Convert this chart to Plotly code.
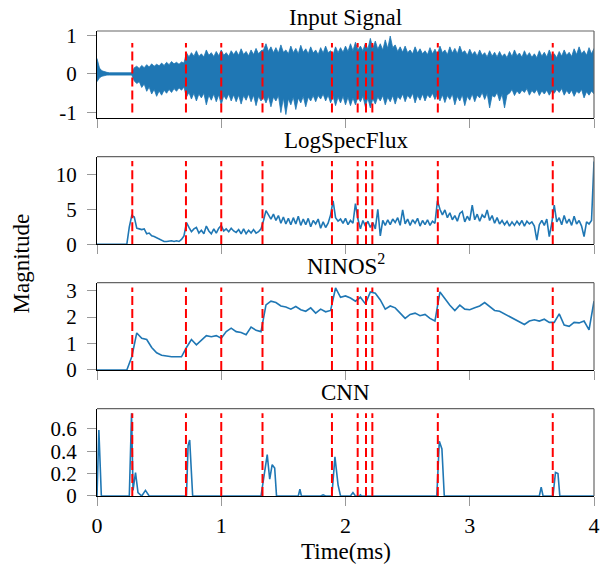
import numpy as np
import plotly.graph_objects as go

# onset markers (ms)
onsets = [0.284, 0.716, 1.0, 1.332, 1.891, 2.098, 2.165, 2.216, 2.743, 3.668]

# sampling grids (ms)
t_grid = np.arange(0, 4.001, 0.04)
t_fine = np.arange(0, 4.001, 0.02)

# input signal envelope (upper / lower, 0.02 ms steps)
sig_hi = [0.40, 0.15, 0.08, 0.05, 0.04, 0.03, 0.03, 0.03, 0.02, 0.02,
          0.02, 0.02, 0.02, 0.02, 0.03, 0.16, 0.20, 0.14, 0.22, 0.16,
          0.24, 0.18, 0.26, 0.20, 0.25, 0.21, 0.28, 0.22, 0.30, 0.24,
          0.32, 0.26, 0.30, 0.25, 0.31, 0.28, 0.55, 0.44, 0.55, 0.46,
          0.60, 0.45, 0.52, 0.44, 0.62, 0.48, 0.55, 0.45, 0.58, 0.47,
          0.62, 0.48, 0.55, 0.46, 0.60, 0.50, 0.60, 0.48, 0.65, 0.50,
          0.58, 0.47, 0.62, 0.50, 0.66, 0.52, 0.60, 0.62, 0.78, 0.58,
          0.70, 0.55, 0.68, 0.54, 0.75, 0.56, 0.62, 0.52, 0.72, 0.55,
          0.66, 0.52, 0.74, 0.56, 0.65, 0.52, 0.70, 0.54, 0.62, 0.50,
          0.68, 0.54, 0.72, 0.55, 0.60, 0.50, 0.70, 0.55, 0.68, 0.56,
          0.72, 0.58, 0.78, 0.60, 0.82, 0.62, 0.72, 0.60, 0.80, 0.64,
          0.92, 0.66, 0.85, 0.64, 0.78, 0.62, 0.88, 0.66, 0.98, 0.68,
          0.75, 0.58, 0.70, 0.56, 0.72, 0.55, 0.62, 0.52, 0.70, 0.54,
          0.65, 0.52, 0.60, 0.50, 0.68, 0.52, 0.64, 0.50, 0.72, 0.55,
          0.62, 0.50, 0.70, 0.54, 0.66, 0.52, 0.72, 0.55, 0.60, 0.48,
          0.64, 0.50, 0.58, 0.46, 0.62, 0.48, 0.55, 0.44, 0.60, 0.46,
          0.56, 0.44, 0.58, 0.45, 0.52, 0.42, 0.58, 0.45, 0.62, 0.47,
          0.54, 0.43, 0.60, 0.46, 0.55, 0.43, 0.52, 0.42, 0.60, 0.46,
          0.56, 0.44, 0.62, 0.47, 0.52, 0.42, 0.58, 0.46, 0.62, 0.48,
          0.56, 0.45, 0.65, 0.50, 0.70, 0.52, 0.60, 0.48, 0.68, 0.52,
          0.66]
sig_lo = [-0.20, -0.10, -0.06, -0.04, -0.03, -0.03, -0.03, -0.02, -0.02, -0.02,
          -0.02, -0.02, -0.02, -0.02, -0.03, -0.18, -0.25, -0.20, -0.35, -0.26,
          -0.45, -0.34, -0.52, -0.40, -0.58, -0.44, -0.55, -0.42, -0.50, -0.40,
          -0.48, -0.38, -0.45, -0.36, -0.42, -0.34, -0.60, -0.48, -0.65, -0.50,
          -0.70, -0.52, -0.62, -0.50, -0.80, -0.55, -0.68, -0.52, -0.72, -0.54,
          -0.80, -0.56, -0.66, -0.52, -0.70, -0.54, -0.72, -0.55, -0.78, -0.56,
          -0.68, -0.52, -0.72, -0.55, -0.82, -0.58, -0.70, -0.60, -0.75, -0.58,
          -0.85, -0.60, -0.70, -0.56, -1.00, -0.62, -1.05, -0.64, -0.80, -0.60,
          -0.92, -0.62, -0.75, -0.58, -0.85, -0.60, -0.70, -0.56, -0.72, -0.56,
          -0.65, -0.52, -0.70, -0.55, -0.75, -0.58, -0.82, -0.60, -0.75, -0.58,
          -0.80, -0.60, -0.82, -0.62, -0.80, -0.60, -0.72, -0.58, -0.85, -0.62,
          -0.88, -0.64, -0.78, -0.60, -0.70, -0.56, -0.80, -0.60, -0.72, -0.56,
          -0.78, -0.58, -0.66, -0.52, -0.72, -0.55, -0.64, -0.50, -0.75, -0.56,
          -0.68, -0.52, -0.70, -0.54, -0.62, -0.50, -0.66, -0.52, -0.70, -0.54,
          -0.74, -0.56, -0.66, -0.52, -0.80, -0.58, -0.70, -0.54, -0.82, -0.58,
          -0.68, -0.52, -0.72, -0.55, -0.62, -0.48, -0.66, -0.50, -0.88, -0.56,
          -0.60, -0.48, -0.70, -0.52, -0.88, -0.54, -0.50, -0.40, -0.56, -0.44,
          -0.52, -0.42, -0.48, -0.38, -0.55, -0.43, -0.50, -0.40, -0.56, -0.44,
          -0.52, -0.42, -0.55, -0.44, -0.50, -0.40, -0.48, -0.38, -0.55, -0.43,
          -0.52, -0.42, -0.58, -0.45, -0.50, -0.40, -0.62, -0.46, -0.55, -0.44,
          -0.52]

# LogSpecFlux (0.02 ms steps)
lsf = [0, 0, 0, 0, 0, 0, 0, 0, 0, 0,
       0, 0, 0, 2.5, 4.1, 3.9, 2.3, 2.2, 2.1, 2.2,
       1.5, 1.6, 1.2, 1.1, 0.9, 0.7, 0.5, 0.4, 0.4, 0.5,
       0.5, 0.4, 0.5, 0.4, 0.7, 1.2, 3.1, 2.4, 1.8, 2.2,
       2.4, 1.6, 2.0, 1.5, 2.6, 1.9, 1.5, 2.2, 1.6, 2.3,
       2.7, 1.9, 2.2, 1.8, 2.3, 1.9, 1.7, 2.1, 1.5, 2.2,
       1.5, 2.0, 1.6, 2.1, 1.6, 1.8, 2.2, 3.4, 4.8, 4.2,
       3.6, 4.3, 3.4, 4.1, 3.0, 3.9, 2.9, 3.7, 2.8, 3.8,
       2.9, 4.0, 2.7, 3.6, 2.8, 3.7, 2.5, 3.4, 2.9, 3.6,
       2.3, 3.2, 2.4, 3.0, 4.2, 6.2, 3.8, 3.3, 3.6, 3.0,
       3.7, 2.8, 3.4, 3.0, 5.8, 3.6, 2.2, 3.4, 2.6, 3.3,
       2.4, 3.1, 2.2, 5.0, 1.2, 3.4, 2.7, 3.5, 2.8, 3.6,
       3.1, 3.8, 2.7, 4.9, 2.9, 3.6, 2.7, 3.5, 3.0, 3.7,
       2.6, 3.4, 2.8, 3.5, 2.7, 3.3, 3.0, 6.2, 5.0, 4.2,
       4.9, 3.8, 4.5, 3.5, 4.1, 3.3, 4.4, 4.7, 3.2, 4.0,
       3.4, 5.6, 3.5, 4.3, 3.3, 4.2, 3.8, 4.9, 3.4, 4.1,
       3.0, 3.8, 2.9, 3.4, 2.8, 3.3, 2.6, 3.2, 2.7, 3.3,
       2.8, 3.4, 2.6, 3.3, 2.9, 3.2, 2.6, 0.6, 2.8, 3.4,
       2.7, 3.6, 1.1, 3.0, 5.6, 3.2, 3.8, 2.8, 4.1, 3.0,
       3.6, 2.7, 4.0, 2.9, 3.4, 2.6, 1.1, 3.2, 2.9, 3.4,
       11.8]

# NINOS^2 (0.04 ms steps)
ninos = [0, 0, 0, 0, 0, 0, 0, 0.5, 1.4, 1.2,
         1.15, 0.85, 0.65, 0.56, 0.52, 0.50, 0.50, 0.50, 0.85, 1.15,
         0.95, 1.12, 1.30, 1.26, 1.30, 1.20, 1.45, 1.58, 1.45, 1.42,
         1.33, 1.62, 1.50, 1.45, 2.46, 2.60, 2.55, 2.42, 2.38, 2.30,
         2.40, 2.28, 2.22, 2.35, 2.15, 2.30, 2.20, 2.25, 3.10, 2.75,
         2.80, 2.72, 2.60, 2.75, 2.50, 2.95, 2.90, 2.65, 2.30, 2.42,
         2.35, 2.15, 1.95, 2.10, 2.15, 2.05, 2.10, 1.95, 1.85, 2.95,
         2.70, 2.45, 2.25, 2.45, 2.30, 2.28, 2.35, 2.42, 2.55, 2.40,
         2.25, 2.22, 2.12, 2.05, 1.95, 1.85, 1.72, 1.85, 1.90, 1.85,
         1.92, 1.80, 1.80, 2.12, 1.70, 1.65, 1.80, 1.78, 1.85, 1.52,
         2.60]

# CNN output (sparse peaks)
cnn_t = [0, 0.015, 0.035, 0.05, 0.26, 0.278, 0.29, 0.31, 0.33, 0.36, 0.39, 0.42,
         0.72, 0.733, 0.746, 0.77, 1.32, 1.37, 1.39, 1.41, 1.43, 1.445,
         1.62, 1.633, 1.645, 1.80, 1.82, 1.84, 1.89, 1.915, 1.94, 1.96,
         2.04, 2.06, 2.08, 2.11, 2.12, 2.13, 2.735, 2.755, 2.776, 2.795,
         3.56, 3.575, 3.59, 3.67, 3.69, 3.71, 3.725, 4.0]
cnn_v = [0, 0.59, 0, 0, 0, 0.74, 0.05, 0.21, 0.03, 0, 0.05, 0,
         0, 0.45, 0.5, 0, 0, 0.37, 0.15, 0.28, 0.25, 0,
         0, 0.06, 0, 0, 0.01, 0, 0, 0.35, 0.1, 0,
         0, 0.03, 0, 0, 0.01, 0, 0, 0.49, 0.42, 0,
         0, 0.08, 0, 0, 0.21, 0.2, 0, 0]

BLUE = "#1f77b4"
FONT = "Liberation Serif"

# (title, y range, tick values, tick text, onset line span)
panels = [
    ("Input Signal", [-1.14, 1.11], [-1, 0, 1], ["-1", "0", "1"], (-1.0, 0.8)),
    ("LogSpecFlux", [0, 12.5], [0, 5, 10], ["0", "5", "10"], (0, 11.9)),
    ("NINOS<sup>2</sup>", [0, 3.3], [0, 1, 2, 3], ["0", "1", "2", "3"], (0, 3.12)),
    ("CNN", [0, 0.78], [0, 0.2, 0.4, 0.6], ["0", "0.2", "0.4", "0.6"], (0, 0.74)),
]
domains = [(0.8129, 1.0), (0.5413, 0.7297), (0.271, 0.4587), (0.0, 0.1877)]

fig = go.Figure()

# panel 1: waveform drawn as a filled envelope
fig.add_trace(go.Scatter(x=t_fine, y=sig_lo, mode="lines", line=dict(color=BLUE, width=0.8),
                         xaxis="x", yaxis="y", showlegend=False))
fig.add_trace(go.Scatter(x=t_fine, y=sig_hi, mode="lines", line=dict(color=BLUE, width=0.8),
                         fill="tonexty", fillcolor=BLUE, xaxis="x", yaxis="y", showlegend=False))
fig.add_trace(go.Scatter(x=t_fine, y=lsf, mode="lines", line=dict(color=BLUE, width=1.6),
                         xaxis="x2", yaxis="y2", showlegend=False))
fig.add_trace(go.Scatter(x=t_grid, y=ninos, mode="lines", line=dict(color=BLUE, width=1.6),
                         xaxis="x3", yaxis="y3", showlegend=False))
fig.add_trace(go.Scatter(x=cnn_t, y=cnn_v, mode="lines", line=dict(color=BLUE, width=1.6),
                         xaxis="x4", yaxis="y4", showlegend=False))

layout = {}
shapes = []
annotations = []
for i, (title, yr, tv, tt, span) in enumerate(panels):
    n = "" if i == 0 else str(i + 1)
    layout["xaxis" + n] = dict(
        domain=[0, 1], range=[0, 4], anchor="y" + n,
        tickvals=[0, 1, 2, 3, 4], showticklabels=(i == 3),
        ticks="outside", ticklen=9, tickcolor="#999", tickwidth=1,
        showline=True, linecolor="black", linewidth=1.2,
        showgrid=False, zeroline=False,
        tickfont=dict(family=FONT, size=22, color="black"),
    )
    layout["yaxis" + n] = dict(
        domain=list(domains[i]), range=yr, anchor="x" + n,
        tickvals=tv, ticktext=tt,
        ticks="outside", ticklen=9, tickcolor="#999", tickwidth=1,
        ticklabelstandoff=6,
        showline=True, linecolor="black", linewidth=1.2,
        showgrid=False, zeroline=False,
        tickfont=dict(family=FONT, size=21, color="black"),
    )
    # grey top/right frame
    shapes.append(dict(type="line", xref="x" + n + " domain", yref="y" + n + " domain",
                       x0=0, x1=1, y0=1, y1=1, line=dict(color="#666", width=1.2)))
    shapes.append(dict(type="line", xref="x" + n + " domain", yref="y" + n + " domain",
                       x0=1, x1=1, y0=0, y1=1, line=dict(color="#666", width=1.2)))
    for t in onsets:
        shapes.append(dict(type="line", xref="x" + n, yref="y" + n,
                           x0=t, x1=t, y0=span[0], y1=span[1],
                           line=dict(color="red", width=2, dash="9px,4px")))
    annotations.append(dict(text=title, x=0.5, y=domains[i][1], xref="paper", yref="paper",
                            xanchor="center", yanchor="bottom", yshift=(-1 if i == 0 else 2),
                            showarrow=False, font=dict(family=FONT, size=23, color="black")))

annotations.append(dict(text="Magnitude", x=-0.151, y=0.5, xref="paper", yref="paper",
                        xanchor="center", yanchor="middle", textangle=-90, showarrow=False,
                        font=dict(family=FONT, size=23, color="black")))
annotations.append(dict(text="Time(ms)", x=0.5, y=-0.119, xref="paper", yref="paper",
                        xanchor="center", yanchor="middle", showarrow=False,
                        font=dict(family=FONT, size=23, color="black")))

# the page body adds an 8px offset, so margins are reduced by that much
fig.update_layout(
    width=603, height=559,
    margin=dict(l=89, r=17, t=23, b=71),
    plot_bgcolor="white", paper_bgcolor="white",
    shapes=shapes, annotations=annotations,
    **layout,
)

fig.write_html("out.html")
